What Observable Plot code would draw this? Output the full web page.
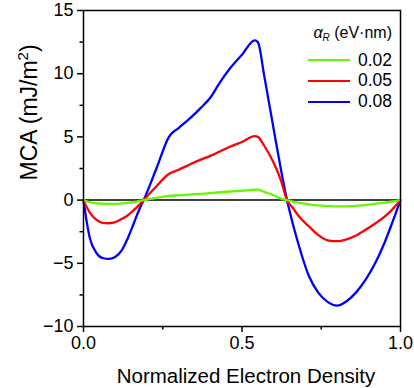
<!DOCTYPE html>
<html>
<head>
<meta charset="utf-8">
<script src="https://cdn.jsdelivr.net/npm/d3@7"></script>
<script src="https://cdn.jsdelivr.net/npm/@observablehq/plot@0.6"></script>
<style>
  body { margin: 0; background: white; }
  #wrap { position: relative; width: 414px; height: 388px; font-family: "Liberation Sans", Arial, sans-serif; color: black; }
  .lg { position: absolute; right: 22px; white-space: nowrap; }
  .lg-title { font-size: 16px; line-height: 16px; }
  .lg-row { display: flex; align-items: center; height: 20px; font-size: 17.5px; }
  .lg-sw { width: 42px; height: 2.2px; margin-right: 8px; }
</style>
</head>
<body>
<div id="wrap"></div>
<script>
const seriesNames = ["0.02", "0.05", "0.08"];
const seriesColors = ["#66f800", "#ff0000", "#0000ff"];
const xs = [0, 0.01, 0.02, 0.04, 0.06, 0.08, 0.10, 0.12, 0.14, 0.16, 0.175, 0.19, 0.23, 0.27, 0.30, 0.34, 0.37, 0.40, 0.43, 0.46, 0.50, 0.54, 0.55, 0.57, 0.60, 0.623, 0.642, 0.66, 0.68, 0.71, 0.74, 0.77, 0.80, 0.83, 0.86, 0.89, 0.92, 0.95, 0.97, 1.0];
const y002 = [0, -0.1, -0.17, -0.25, -0.29, -0.3, -0.3, -0.27, -0.22, -0.15, -0.08, 0, 0.18, 0.33, 0.38, 0.45, 0.5, 0.56, 0.62, 0.68, 0.74, 0.82, 0.83, 0.65, 0.38, 0.12, 0, -0.12, -0.22, -0.33, -0.42, -0.48, -0.5, -0.49, -0.45, -0.38, -0.3, -0.2, -0.13, 0];
const y005 = [0, -0.55, -1.0, -1.55, -1.8, -1.83, -1.75, -1.5, -1.2, -0.75, -0.4, 0, 1.1, 2.08, 2.4, 2.87, 3.2, 3.5, 3.85, 4.2, 4.6, 5.06, 5.0, 4.3, 2.95, 1.55, 0, -0.6, -1.3, -2.05, -2.75, -3.18, -3.25, -3.1, -2.8, -2.35, -1.85, -1.3, -0.85, 0];
const y008 = [0, -1.7, -3.0, -4.15, -4.58, -4.65, -4.5, -4.0, -3.0, -1.75, -0.8, 0, 2.5, 5.03, 5.7, 6.56, 7.3, 8.1, 9.3, 10.35, 11.5, 12.63, 12.5, 9.85, 5.6, 2.4, 0, -1.85, -3.65, -5.95, -7.3, -8.05, -8.35, -8.0, -7.3, -6.3, -5.0, -3.35, -2.05, 0];
const xTicks = [0, 0.5, 1.0];
const xMinor = [0.25, 0.75];
const yTicks = [-10, -5, 0, 5, 10, 15];
const yMinor = [-7.5, -2.5, 2.5, 7.5, 12.5];
const xLabel = "Normalized Electron Density";
const yLabel = "MCA (mJ/m2)";

const series = [["0.08", y008], ["0.05", y005], ["0.02", y002]];
const data = series.flatMap(([s, ys]) => xs.map((x, i) => ({x, y: ys[i], s})));

const chart = Plot.plot({
  width: 414, height: 388,
  marginLeft: 83, marginRight: 14, marginTop: 10, marginBottom: 62,
  style: {fontFamily: "Liberation Sans, Arial, sans-serif", fontSize: "18px", color: "black", background: "white"},
  x: {domain: [0, 1]},
  y: {domain: [-10, 15]},
  color: {domain: seriesNames, range: seriesColors},
  marks: [
    Plot.ruleY([0], {stroke: "black", strokeWidth: 1.5}),
    Plot.line(data, {x: "x", y: "y", z: "s", stroke: "s", strokeWidth: 2.3, curve: "monotone-x"}),
    Plot.frame({stroke: "black", strokeWidth: 1.5}),
    Plot.axisX({ticks: xTicks, tickFormat: d => d.toFixed(1), tickSize: 6, strokeWidth: 1.5, tickPadding: 4, fontSize: 18, label: null}),
    Plot.axisX({ticks: xMinor, tickSize: 3.5, strokeWidth: 1.5, text: null, label: null}),
    Plot.axisY({ticks: yTicks, tickSize: 6, strokeWidth: 1.5, tickPadding: 4, fontSize: 18, label: null}),
    Plot.axisY({ticks: yMinor, tickSize: 3.5, strokeWidth: 1.5, text: null, label: null}),
    Plot.text([xLabel], {frameAnchor: "bottom", lineAnchor: "bottom", dx: 4, dy: 56, fontSize: 20.5, fill: "black"}),
    Plot.text([yLabel], {frameAnchor: "left", rotate: -90, lineAnchor: "middle", dx: -54, dy: 12, fontSize: 23, fill: "black"})
  ]
});
const wrap = document.getElementById("wrap");
wrap.appendChild(chart);
chart.querySelectorAll("text").forEach(t => {
  if (t.textContent === yLabel) {
    t.textContent = "";
    const ns = "http://www.w3.org/2000/svg";
    const a = document.createElementNS(ns, "tspan"); a.textContent = "MCA (mJ/m";
    const b = document.createElementNS(ns, "tspan"); b.textContent = "2"; b.setAttribute("font-size", "15"); b.setAttribute("dy", "-9");
    const c = document.createElementNS(ns, "tspan"); c.textContent = ")"; c.setAttribute("dy", "9");
    t.append(a, b, c);
  }
});

const title = document.createElement("div");
title.className = "lg lg-title";
title.style.top = "25px";
title.innerHTML = `<i>α</i><i style="font-size:10px;position:relative;top:3px">R</i> (eV·nm)`;
wrap.appendChild(title);
seriesNames.forEach((n, i) => {
  const row = document.createElement("div");
  row.className = "lg lg-row";
  row.style.top = (50 + i * 20.8) + "px";
  row.innerHTML = `<div class="lg-sw" style="background:${seriesColors[i]}"></div><span>${n}</span>`;
  wrap.appendChild(row);
});
</script>
</body>
</html>
